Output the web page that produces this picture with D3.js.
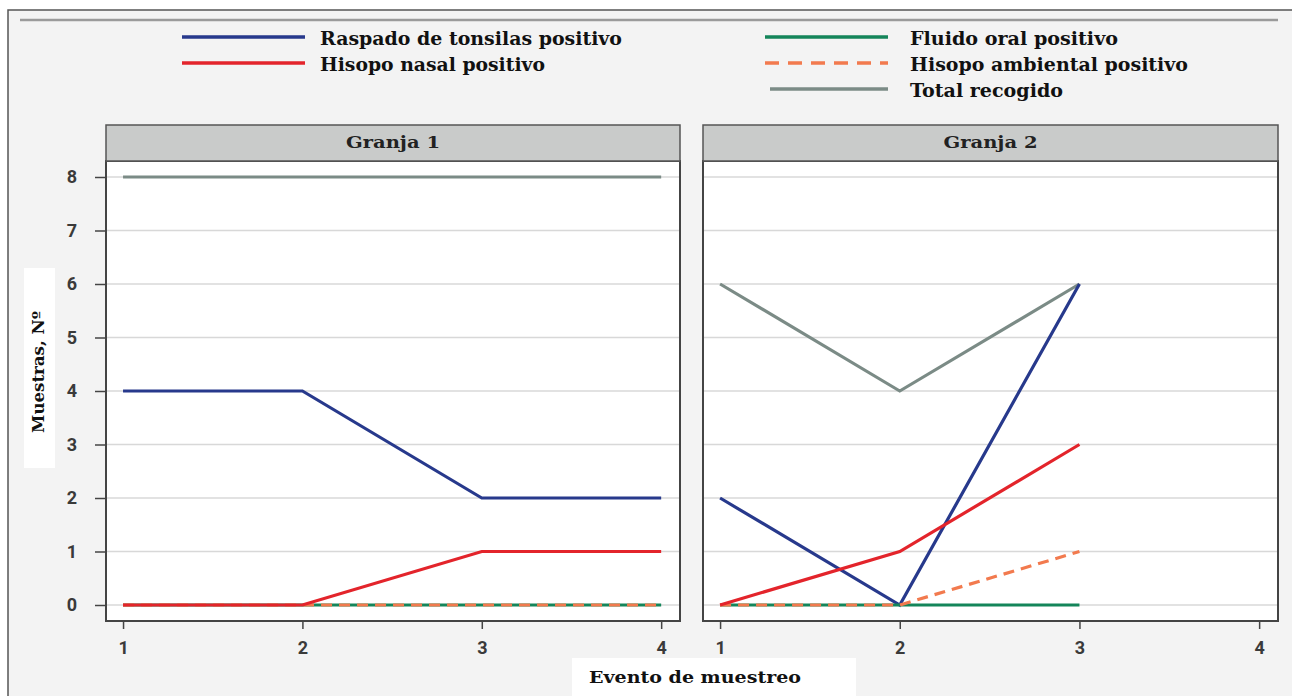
<!DOCTYPE html>
<html><head><meta charset="utf-8">
<script src="https://cdn.jsdelivr.net/npm/d3@7"></script>
<style>body{margin:0;background:#fff;}svg{display:block;}</style>
</head><body>
<svg id="chart" width="1292" height="696"></svg>
<script>
// ---- data ----
const events = [1, 2, 3, 4];
const farms = ["Granja 1", "Granja 2"];
const seriesNames = ["Raspado de tonsilas positivo", "Hisopo nasal positivo", "Fluido oral positivo", "Hisopo ambiental positivo", "Total recogido"];
const yTicks = [0, 1, 2, 3, 4, 5, 6, 7, 8];
// Granja 1 (events 1-4)
const g1Tonsilas = [4, 4, 2, 2];
const g1Nasal = [0, 0, 1, 1];
const g1Oral = [0, 0, 0, 0];
const g1Ambiental = [0, 0, 0, 0];
const g1Total = [8, 8, 8, 8];
// Granja 2 (events 1-3)
const g2Tonsilas = [2, 0, 6];
const g2Nasal = [0, 1, 3];
const g2Oral = [0, 0, 0];
const g2Ambiental = [0, 0, 1];
const g2Total = [6, 4, 6];

const colors = ["#27398c", "#e3242b", "#14855a", "#f27a4e", "#7b8b86"];
const dashes = [null, null, null, "11,7", null];

const svg = d3.select("#chart");
// background & frame
svg.append("rect").attr("x", 8).attr("y", 10).attr("width", 1292).attr("height", 700)
  .attr("fill", "#f3f3f3").attr("stroke", "#555").attr("stroke-width", 1.5);
svg.append("line").attr("x1", 20).attr("x2", 1278).attr("y1", 20).attr("y2", 20)
  .attr("stroke", "#9a9a9a").attr("stroke-width", 2.5);

function fitText(sel, target) {
  sel.attr("textLength", target).attr("lengthAdjust", "spacingAndGlyphs");
}
const serif = "'DejaVu Serif', 'Liberation Serif', serif";
const sans = "Roboto, 'DejaVu Sans', sans-serif";

// legend
const legendItems = [
  {i: 0, x: 182, y: 37}, {i: 1, x: 182, y: 63},
  {i: 2, x: 765, y: 37}, {i: 3, x: 765, y: 63}, {i: 4, x: 765, y: 89}
];
const legendTargets = [302, 225, 208, 278, 153];
legendItems.forEach(it => {
  svg.append("line").attr("x1", it.x + (it.i === 4 ? 5 : 0)).attr("x2", it.x + 123).attr("y1", it.y).attr("y2", it.y)
    .attr("stroke", colors[it.i]).attr("stroke-width", 3.5)
    .attr("stroke-dasharray", it.i === 3 ? "14,9" : null);
  const t = svg.append("text").attr("x", it.x + 138 + (it.i >= 2 ? 7 : 0)).attr("y", it.y + 8)
    .attr("font-family", serif).attr("font-weight", "bold").attr("font-size", 18)
    .attr("fill", "#111").text(seriesNames[it.i]);
  fitText(t, legendTargets[it.i]);
});

// panels
const y = d3.scaleLinear().domain([0, 8]).range([605, 177]);
const panels = [
  {name: farms[0], left: 106, right: 680, data: [g1Tonsilas, g1Nasal, g1Oral, g1Ambiental, g1Total]},
  {name: farms[1], left: 703, right: 1278, data: [g2Tonsilas, g2Nasal, g2Oral, g2Ambiental, g2Total]}
];
const plotTop = 161, plotBottom = 621, headTop = 125;
const drawOrder = [4, 0, 2, 3, 1];

panels.forEach((p, pi) => {
  const x = d3.scaleLinear().domain([0.905, 4.105]).range([p.left, p.right]);
  const g = svg.append("g");
  g.append("rect").attr("x", p.left).attr("y", plotTop).attr("width", p.right - p.left).attr("height", plotBottom - plotTop)
    .attr("fill", "#fff");
  // grid
  g.selectAll(".grid").data(yTicks).join("line")
    .attr("x1", p.left).attr("x2", p.right).attr("y1", d => y(d)).attr("y2", d => y(d))
    .attr("stroke", "#d8d8d8").attr("stroke-width", 1.5);
  // lines
  drawOrder.forEach(si => {
    const vals = p.data[si];
    const line = d3.line().x((d, i) => x(events[i])).y(d => y(d));
    g.append("path").attr("d", line(vals)).attr("fill", "none")
      .attr("stroke", colors[si]).attr("stroke-width", 3.2)
      .attr("stroke-dasharray", dashes[si]).attr("stroke-linejoin", "miter");
  });
  // frame
  g.append("rect").attr("x", p.left).attr("y", plotTop).attr("width", p.right - p.left).attr("height", plotBottom - plotTop)
    .attr("fill", "none").attr("stroke", "#444").attr("stroke-width", 2);
  // header
  g.append("rect").attr("x", p.left).attr("y", headTop).attr("width", p.right - p.left).attr("height", plotTop - headTop)
    .attr("fill", "#c9cbca").attr("stroke", "#555").attr("stroke-width", 1.5);
  const ht = g.append("text").attr("x", (p.left + p.right) / 2).attr("y", 148)
    .attr("text-anchor", "middle").attr("font-family", serif).attr("font-weight", "bold")
    .attr("font-size", 16).attr("fill", "#222").text(p.name);
  fitText(ht, 94);
  // x axis
  const xa = d3.axisBottom(x).tickValues(events).tickFormat(d3.format("d")).tickSize(8).tickPadding(12);
  const xg = g.append("g").attr("transform", `translate(0,${plotBottom})`).call(xa);
  xg.select(".domain").remove();
  xg.selectAll("line").attr("stroke", "#444").attr("stroke-width", 1.5);
  xg.selectAll("text").attr("font-family", sans).attr("font-weight", 700)
    .attr("font-size", 18).attr("fill", "#3a3a3a");
  if (pi === 0) {
    const ya = d3.axisLeft(y).tickValues(yTicks).tickFormat(d3.format("d")).tickSize(11).tickPadding(18);
    const yg = g.append("g").attr("transform", `translate(${p.left},0)`).call(ya);
    yg.select(".domain").remove();
    yg.selectAll("line").attr("stroke", "#444").attr("stroke-width", 1.5);
    yg.selectAll("text").attr("font-family", sans).attr("font-weight", 700)
      .attr("font-size", 18).attr("fill", "#3a3a3a");
  }
});

// axis titles
svg.append("rect").attr("x", 24).attr("y", 268).attr("width", 31).attr("height", 200).attr("fill", "#fff");
const yt = svg.append("text").attr("transform", "translate(44,372) rotate(-90)").attr("text-anchor", "middle")
  .attr("font-family", serif).attr("font-weight", "bold").attr("font-size", 16).attr("fill", "#111")
  .text("Muestras, Nº");
fitText(yt, 122);
svg.append("rect").attr("x", 572).attr("y", 658).attr("width", 284).attr("height", 40).attr("fill", "#fff");
const xt = svg.append("text").attr("x", 695).attr("y", 683).attr("text-anchor", "middle")
  .attr("font-family", serif).attr("font-weight", "bold").attr("font-size", 17).attr("fill", "#111")
  .text("Evento de muestreo");
fitText(xt, 212);
</script>
</body></html>
